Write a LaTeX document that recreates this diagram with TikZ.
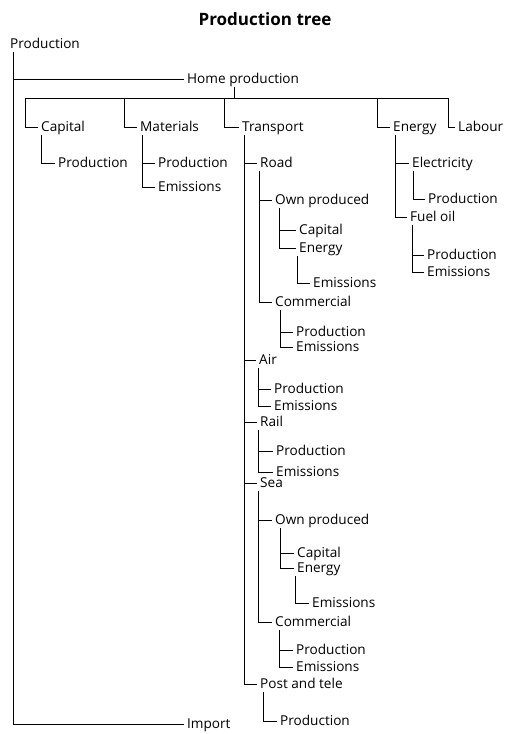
\documentclass[tikz,border=0pt]{standalone}
\usepackage{fontspec}
\setmainfont{Open Sans}
\begin{document}
\begin{tikzpicture}[x=1pt,y=-1pt,
  lbl/.style={anchor=west,inner xsep=3pt,inner ysep=3pt,text height=9.7pt,text depth=0pt,font=\fontsize{13.6}{15}\selectfont},
  ttl/.style={inner sep=0pt,text height=12pt,text depth=0pt,font=\fontsize{17}{19}\selectfont\bfseries},
  ln/.style={line width=0.8pt,black}]
\useasboundingbox (0,0) rectangle (506,734);
\node[ttl] (title) at (265,19) {Production tree};
% level 0
\node[lbl] (root) at (7,44) {Production};
\node[lbl] (hp) at (184,79) {Home production};
\node[lbl] (imp) at (184,724) {Import};
% level 1
\node[lbl] (cap) at (38,127) {Capital};
\node[lbl] (mat) at (137,127) {Materials};
\node[lbl] (tra) at (239,127) {Transport};
\node[lbl] (ene) at (390,127) {Energy};
\node[lbl] (lab) at (455,127) {Labour};
% capital / materials
\node[lbl] (capP) at (55,163) {Production};
\node[lbl] (matP) at (155,163) {Production};
\node[lbl] (matE) at (155,187) {Emissions};
% transport
\node[lbl] (road) at (257,163) {Road};
\node[lbl] (rOwn) at (272,200) {Own produced};
\node[lbl] (rOC) at (296,230) {Capital};
\node[lbl] (rOE) at (296,248) {Energy};
\node[lbl] (rOEE) at (310,283) {Emissions};
\node[lbl] (rCom) at (272,302) {Commercial};
\node[lbl] (rCP) at (293,332) {Production};
\node[lbl] (rCE) at (293,347) {Emissions};
\node[lbl] (air) at (256,360) {Air};
\node[lbl] (airP) at (271,389) {Production};
\node[lbl] (airE) at (271,406) {Emissions};
\node[lbl] (rail) at (257,422) {Rail};
\node[lbl] (railP) at (273,451) {Production};
\node[lbl] (railE) at (273,472) {Emissions};
\node[lbl] (sea) at (257,483) {Sea};
\node[lbl] (sOwn) at (272,520) {Own produced};
\node[lbl] (sOC) at (294,553) {Capital};
\node[lbl] (sOE) at (294,568) {Energy};
\node[lbl] (sOEE) at (309,603) {Emissions};
\node[lbl] (sCom) at (272,622) {Commercial};
\node[lbl] (sCP) at (293,650) {Production};
\node[lbl] (sCE) at (293,667) {Emissions};
\node[lbl] (post) at (257,684) {Post and tele};
\node[lbl] (postP) at (277,721) {Production};
% energy
\node[lbl] (elec) at (409,163) {Electricity};
\node[lbl] (elecP) at (425,199) {Production};
\node[lbl] (fuel) at (407,217) {Fuel oil};
\node[lbl] (fuelP) at (424,255) {Production};
\node[lbl] (fuelE) at (424,272) {Emissions};
% bar coordinates
\coordinate (tick) at (234,98);
\coordinate (b1) at (25,98);
\coordinate (b2) at (124,98);
\coordinate (b3) at (224,98);
\coordinate (b4) at (377,98);
\coordinate (b5) at (448,98);
% connectors
\draw[ln] ([xshift=6pt]root.south west) |- (hp.west);
\draw[ln] ([xshift=6pt]root.south west) |- (imp.west);
\draw[ln] (hp.south -| tick) -- (tick);
\draw[ln] (b1) -- (b5);
\draw[ln] (b1) |- (cap.west);
\draw[ln] (b2) |- (mat.west);
\draw[ln] (b3) |- (tra.west);
\draw[ln] (b4) |- (ene.west);
\draw[ln] (b5) |- (lab.west);
\draw[ln] ([xshift=3pt]cap.south west) |- (capP.west);
\draw[ln] ([xshift=5pt]mat.south west) |- (matP.west);
\draw[ln] ([xshift=5pt]mat.south west) |- (matE.west);
\foreach \c in {road,air,rail,sea,post}
  \draw[ln] ([xshift=5pt]tra.south west) |- (\c.west);
\draw[ln] ([xshift=2pt]road.south west) |- (rOwn.west);
\draw[ln] ([xshift=2pt]road.south west) |- (rCom.west);
\draw[ln] ([xshift=7pt]rOwn.south west) |- (rOC.west);
\draw[ln] ([xshift=7pt]rOwn.south west) |- (rOE.west);
\draw[ln] ([xshift=1pt]rOE.south west) |- (rOEE.west);
\draw[ln] ([xshift=8pt]rCom.south west) |- (rCP.west);
\draw[ln] ([xshift=8pt]rCom.south west) |- (rCE.west);
\draw[ln] ([xshift=2pt]air.south west) |- (airP.west);
\draw[ln] ([xshift=2pt]air.south west) |- (airE.west);
\draw[ln] ([xshift=1pt]rail.south west) |- (railP.west);
\draw[ln] ([xshift=1pt]rail.south west) |- (railE.west);
\draw[ln] ([xshift=1pt]sea.south west) |- (sOwn.west);
\draw[ln] ([xshift=1pt]sea.south west) |- (sCom.west);
\draw[ln] ([xshift=8pt]sOwn.south west) |- (sOC.west);
\draw[ln] ([xshift=8pt]sOwn.south west) |- (sOE.west);
\draw[ln] ([xshift=1pt]sOE.south west) |- (sOEE.west);
\draw[ln] ([xshift=7pt]sCom.south west) |- (sCP.west);
\draw[ln] ([xshift=7pt]sCom.south west) |- (sCE.west);
\draw[ln] ([xshift=6pt]post.south west) |- (postP.west);
\draw[ln] ([xshift=5pt]ene.south west) |- (elec.west);
\draw[ln] ([xshift=5pt]ene.south west) |- (fuel.west);
\draw[ln] ([xshift=4pt]elec.south west) |- (elecP.west);
\draw[ln] ([xshift=5pt]fuel.south west) |- (fuelP.west);
\draw[ln] ([xshift=5pt]fuel.south west) |- (fuelE.west);
\end{tikzpicture}
\end{document}
